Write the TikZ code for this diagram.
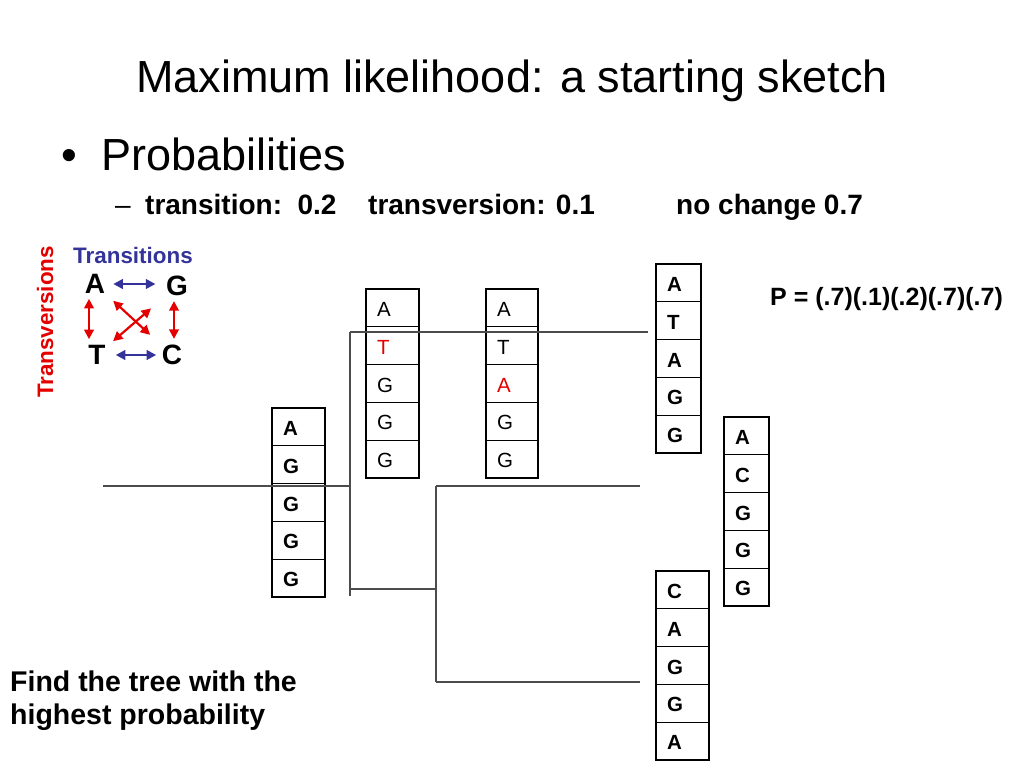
\documentclass[tikz,border=0pt]{standalone}
\usepackage{fontspec}
\setmainfont{Liberation Sans}
\usetikzlibrary{positioning,arrows.meta}
\definecolor{tsblue}{rgb}{0.2,0.2,0.6}
\definecolor{tvred}{rgb}{0.9,0.0,0.0}
\definecolor{treegray}{rgb}{0.3,0.3,0.3}

\begin{document}
\begin{tikzpicture}[x=1pt,y=-1pt,
    txt/.style={anchor=base west,inner sep=0pt},
    seqcell/.style={draw,line width=1.1pt,minimum height=37.8pt,inner sep=0pt,outer sep=0pt},
    seqframe/.style={line width=2.8pt},
    letter/.style={font=\fontsize{20.5}{24}\selectfont,inner sep=0pt},
    branch/.style={treegray,line width=1.2pt},
    tsarrow/.style={tsblue,line width=2.2pt,{Triangle[length=9.5pt,width=9.5pt]}-{Triangle[length=9.5pt,width=9.5pt]}},
    tvarrow/.style={tvred,line width=2.2pt,{Triangle[length=9.5pt,width=9.5pt]}-{Triangle[length=9.5pt,width=9.5pt]}},
    nuc/.style={font=\fontsize{28}{32}\selectfont\bfseries,inner sep=2pt}]
  \useasboundingbox (0,0) rectangle (1024,768);

  % heading and bullets
  \node[anchor=base,font=\fontsize{45}{54}\selectfont] (title) at (512,92) {Maximum likelihood: a starting sketch};
  \node[txt,font=\fontsize{45}{54}\selectfont] (bul) at (61,170) {•};
  \node[txt,font=\fontsize{45}{54}\selectfont] (prob) at (101,170) {Probabilities};
  \node[txt,font=\fontsize{28}{32}\selectfont] (dash) at (115,214) {–};
  \node[txt,font=\fontsize{28}{32}\selectfont\bfseries] (ts) at (145,214) {transition:\ \ 0.2};
  \node[txt,font=\fontsize{28}{32}\selectfont\bfseries] (tv) at (368,214) {transversion: 0.1};
  \node[txt,font=\fontsize{28}{32}\selectfont\bfseries] (nc) at (676,214) {no change 0.7};
  \node[txt,font=\fontsize{25}{30}\selectfont\bfseries] (pval) at (770,305) {P = (.7)(.1)(.2)(.7)(.7)};
  \node[txt,font=\fontsize{28.5}{32}\selectfont\bfseries] (find) at (10,691) {Find the tree with the};
  \node[txt,font=\fontsize{28.5}{32}\selectfont\bfseries] (high) at (10,724) {highest probability};

  % transitions / transversions key
  \node[txt,font=\fontsize{22.4}{26}\selectfont\bfseries,text=tsblue] (tslab) at (73,263) {Transitions};
  \node[rotate=90,font=\fontsize{22.4}{26}\selectfont\bfseries,text=tvred] (tvlab) at (45,322) {Transversions};
  \node[nuc] (A) at (95,284) {A};
  \node[nuc] (G) at (177,286) {G};
  \node[nuc] (T) at (97,355) {T};
  \node[nuc] (C) at (172,355) {C};
  \draw[tsarrow,shorten <=6pt,shorten >=8.5pt] (A.east) -- (A.east -| G.west);
  \draw[tsarrow,shorten <=8pt,shorten >=3.5pt] (T.east) -- (T.east -| C.west);
  \draw[tvarrow] ([xshift=-6pt,yshift=-3pt]A.south) -- ([xshift=-6pt,yshift=4pt]A.south |- T.north);
  \draw[tvarrow] ([xshift=-3pt,yshift=-3pt]G.south) -- ([xshift=-3pt,yshift=4pt]G.south |- C.north);
  \draw[tvarrow,shorten <=8pt,shorten >=13pt] (A) -- (C);
  \draw[tvarrow,shorten <=17pt,shorten >=7pt] (G) -- (T);

  % sequence columns
  \foreach \n/\x/\y/\w/\ft/\seq in {
      c1/272/408/53/\bfseries/{A,G,G,G,G},
      c2/366/289/53/\mdseries/{A,\textcolor{tvred}{T},G,G,G},
      c3/486/289/52/\mdseries/{A,T,\textcolor{tvred}{A},G,G},
      c4/656/264/45/\bfseries/{A,T,A,G,G},
      c5/724/417/45/\bfseries/{A,C,G,G,G},
      c6/656/571/53/\bfseries/{C,A,G,G,A}}{
    \foreach \l [count=\i] in \seq {
      \node[seqcell,minimum width=\w pt,anchor=north west] (\n-\i) at (\x,{\y+(\i-1)*37.8}) {};
      \node[letter,anchor=west] at ([xshift=11pt,yshift=-1.5pt]\n-\i.west) {\ft\l};
    }
    \draw[seqframe] (\n-1.north west) rectangle (\n-5.south east);
  }

  % tree
  \coordinate (root) at (103,486);
  \coordinate (j1) at (350,486);
  \coordinate (j1top) at (350,332);
  \coordinate (j1bot) at (350,596);
  \coordinate (j2) at (436,589);
  \coordinate (j2top) at (436,486);
  \coordinate (j2bot) at (436,682);
  \coordinate (tip1) at (648,332);
  \coordinate (tip2) at (640,486);
  \coordinate (tip3) at (640,682);
  \draw[branch] (root) -- (j1);
  \draw[branch] (j1top) -- (j1bot);
  \draw[branch] (j1top) -- (tip1);
  \draw[branch] (j1 |- j2) -- (j2);
  \draw[branch] (j2top) -- (j2bot);
  \draw[branch] (j2top) -- (tip2);
  \draw[branch] (j2bot) -- (tip3);
\end{tikzpicture}
\end{document}
